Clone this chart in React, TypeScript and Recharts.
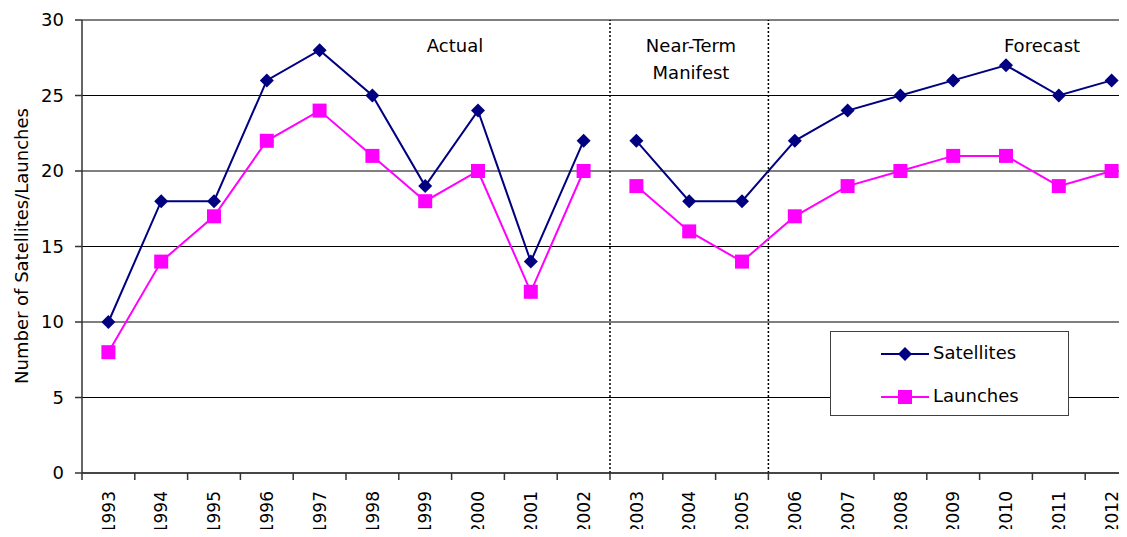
import React from "react";
import {
  LineChart,
  Line,
  XAxis,
  YAxis,
  CartesianGrid,
  ReferenceLine,
  Legend,
} from "recharts";

const years = [
  1993, 1994, 1995, 1996, 1997, 1998, 1999, 2000, 2001, 2002, 2003, 2004, 2005,
  2006, 2007, 2008, 2009, 2010, 2011, 2012,
];
// 1993-2002 actual
const satellitesActual = [10, 18, 18, 26, 28, 25, 19, 24, 14, 22];
const launchesActual = [8, 14, 17, 22, 24, 21, 18, 20, 12, 20];
// 2003-2012 manifest + forecast
const satellitesPlan = [22, 18, 18, 22, 24, 25, 26, 27, 25, 26];
const launchesPlan = [19, 16, 14, 17, 19, 20, 21, 21, 19, 20];
const yTicks = [0, 5, 10, 15, 20, 25, 30];
const phaseBreaks = [2002.5, 2005.5];

const NAVY = "#000080";
const MAGENTA = "#FF00FF";
const FONT = "DejaVu Sans";

const nActual = satellitesActual.length;
const data = years.map((year, i) => ({
  year,
  satA: i < nActual ? satellitesActual[i] : null,
  lauA: i < nActual ? launchesActual[i] : null,
  satB: i >= nActual ? satellitesPlan[i - nActual] : null,
  lauB: i >= nActual ? launchesPlan[i - nActual] : null,
}));

const bandEdges = [...years.map((y) => y - 0.5), years[years.length - 1] + 0.5];

const Diamond = (props: any) => {
  const { cx, cy, index } = props;
  if (cx == null || cy == null) return <g key={`d${index}`} />;
  return (
    <polygon
      key={`d${index}`}
      points={`${cx},${cy - 7} ${cx + 7},${cy} ${cx},${cy + 7} ${cx - 7},${cy}`}
      fill={NAVY}
    />
  );
};

const Square = (props: any) => {
  const { cx, cy, index } = props;
  if (cx == null || cy == null) return <g key={`s${index}`} />;
  return <rect key={`s${index}`} x={cx - 7} y={cy - 7} width={14} height={14} fill={MAGENTA} />;
};

const YearTick = (props: any) => {
  const { x, payload, index, width } = props;
  if (index >= years.length) return <g />;
  const half = (width || 1056) / years.length / 2;
  const cx = x + half;
  const ty = 491;
  return (
    <text
      x={cx}
      y={ty}
      transform={`rotate(-90, ${cx}, ${ty})`}
      textAnchor="end"
      dy="0.36em"
      fontSize={17}
      fontFamily={FONT}
      fill="#000"
    >
      {payload.value + 0.5}
    </text>
  );
};

const LegendBox = () => (
  <div
    style={{
      position: "relative",
      width: 239,
      height: 85,
      boxSizing: "border-box",
      border: "1px solid #404040",
      background: "#fff",
      fontFamily: FONT,
      fontSize: 18,
      color: "#000",
    }}
  >
    {[
      { name: "Satellites", color: NAVY, top: 22, shape: "diamond" },
      { name: "Launches", color: MAGENTA, top: 65, shape: "square" },
    ].map((e) => (
      <div key={e.name} style={{ position: "absolute", left: 50, top: e.top - 10, height: 20 }}>
        <svg width={48} height={20} style={{ position: "absolute", left: 0, top: 0 }}>
          <line x1={0} y1={10} x2={48} y2={10} stroke={e.color} strokeWidth={2} />
          {e.shape === "diamond" ? (
            <polygon points="24,3 31,10 24,17 17,10" fill={e.color} />
          ) : (
            <rect x={17} y={3} width={14} height={14} fill={e.color} />
          )}
        </svg>
        <span style={{ position: "absolute", left: 52, top: -2, lineHeight: "22px", whiteSpace: "nowrap" }}>
          {e.name}
        </span>
      </div>
    ))}
  </div>
);

export default function App() {
  return (
    <div style={{ margin: -8, width: 1127, height: 537, overflow: "hidden", position: "relative", background: "#fff" }}>
      <LineChart
        width={1148}
        height={537}
        data={data}
        margin={{ top: 20, right: 10, bottom: 0, left: 0 }}
        style={{ fontFamily: FONT }}
      >
        <CartesianGrid vertical={false} stroke="#000" strokeWidth={1} />
        <XAxis
          dataKey="year"
          type="number"
          domain={[bandEdges[0], bandEdges[bandEdges.length - 1]]}
          ticks={bandEdges}
          interval={0}
          height={64}
          stroke="#333"
          strokeWidth={1.5}
          tickSize={7}
          tick={<YearTick />}
        />
        <YAxis
          domain={[0, 30]}
          ticks={yTicks}
          interval={0}
          width={82}
          stroke="#333"
          strokeWidth={1.5}
          tickSize={7}
          tickMargin={11}
          tick={{ fill: "#000", fontSize: 18, fontFamily: FONT }}
        />
        {phaseBreaks.map((b) => (
          <ReferenceLine key={b} x={b} stroke="#000" strokeWidth={1.5} strokeDasharray="2 2" />
        ))}
        <Line dataKey="satA" stroke={NAVY} strokeWidth={2} dot={Diamond} isAnimationActive={false} connectNulls={false} />
        <Line dataKey="lauA" stroke={MAGENTA} strokeWidth={2} dot={Square} isAnimationActive={false} connectNulls={false} />
        <Line dataKey="satB" stroke={NAVY} strokeWidth={2} dot={Diamond} isAnimationActive={false} connectNulls={false} />
        <Line dataKey="lauB" stroke={MAGENTA} strokeWidth={2} dot={Square} isAnimationActive={false} connectNulls={false} />
        <Legend
          layout="horizontal"
          verticalAlign="middle"
          align="center"
          wrapperStyle={{ left: 830, top: 331, width: 239, height: 85 }}
          content={<LegendBox />}
        />
      </LineChart>
      <svg
        width={1127}
        height={537}
        style={{ position: "absolute", left: 0, top: 0, pointerEvents: "none" }}
        fontFamily={FONT}
        fontSize={18}
        fill="#000"
      >
        <text x={455} y={52} textAnchor="middle">Actual</text>
        <text x={691} y={52} textAnchor="middle">Near-Term</text>
        <text x={691} y={79} textAnchor="middle">Manifest</text>
        <text x={1042} y={52} textAnchor="middle">Forecast</text>
        <text x={28} y={246} textAnchor="middle" transform="rotate(-90, 28, 246)">
          Number of Satellites/Launches
        </text>
      </svg>
    </div>
  );
}
